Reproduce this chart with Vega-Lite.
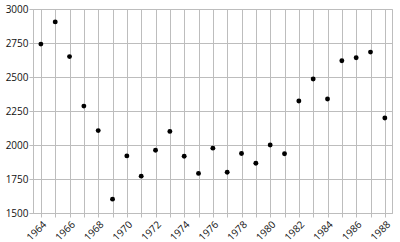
{
  "$schema": "https://vega.github.io/schema/vega-lite/v6.json",
  "width": 359,
  "height": 204,
  "autosize": {"type": "none"},
  "padding": {"left": 33, "top": 9, "right": 8, "bottom": 29},
  "config": {
    "view": {"stroke": "#bdbdbd", "strokeWidth": 1},
    "axis": {
      "labelFont": "Open Sans",
      "labelFontSize": 10,
      "labelColor": "#111",
      "gridColor": "#bdbdbd",
      "gridOpacity": 1,
      "domainColor": "#bdbdbd",
      "tickColor": "#bdbdbd",
      "ticks": true,
      "tickSize": 4
    }
  },
  "data": {
    "values": [
      {"year": 1964, "value": 2742},
      {"year": 1965, "value": 2905},
      {"year": 1966, "value": 2650},
      {"year": 1967, "value": 2286},
      {"year": 1968, "value": 2106},
      {"year": 1969, "value": 1602},
      {"year": 1970, "value": 1920},
      {"year": 1971, "value": 1771},
      {"year": 1972, "value": 1961},
      {"year": 1973, "value": 2100},
      {"year": 1974, "value": 1917},
      {"year": 1975, "value": 1791},
      {"year": 1976, "value": 1977},
      {"year": 1977, "value": 1800},
      {"year": 1978, "value": 1938},
      {"year": 1979, "value": 1866},
      {"year": 1980, "value": 2000},
      {"year": 1981, "value": 1936},
      {"year": 1982, "value": 2323},
      {"year": 1983, "value": 2485},
      {"year": 1984, "value": 2338},
      {"year": 1985, "value": 2620},
      {"year": 1986, "value": 2642},
      {"year": 1987, "value": 2683},
      {"year": 1988, "value": 2198}
    ]
  },
  "mark": {"type": "circle", "size": 24, "color": "#000", "opacity": 1},
  "encoding": {
    "x": {
      "field": "year",
      "type": "quantitative",
      "scale": {"domain": [1963.45, 1988.5], "nice": false, "zero": false},
      "axis": {
        "title": null,
        "values": [1964,1965,1966,1967,1968,1969,1970,1971,1972,1973,1974,1975,1976,1977,1978,1979,1980,1981,1982,1983,1984,1985,1986,1987,1988],
        "labelExpr": "datum.value % 2 == 0 ? format(datum.value, 'd') : ''",
        "labelAngle": -45,
        "labelPadding": 2,
        "labelDy": 3,
        "labelBound": false,
        "labelOverlap": false,
        "labelFlush": false
      }
    },
    "y": {
      "field": "value",
      "type": "quantitative",
      "scale": {"domain": [1500, 3000], "nice": false, "zero": false},
      "axis": {
        "title": null,
        "values": [1500, 1750, 2000, 2250, 2500, 2750, 3000],
        "format": "d",
        "labelPadding": 1
      }
    }
  }
}
